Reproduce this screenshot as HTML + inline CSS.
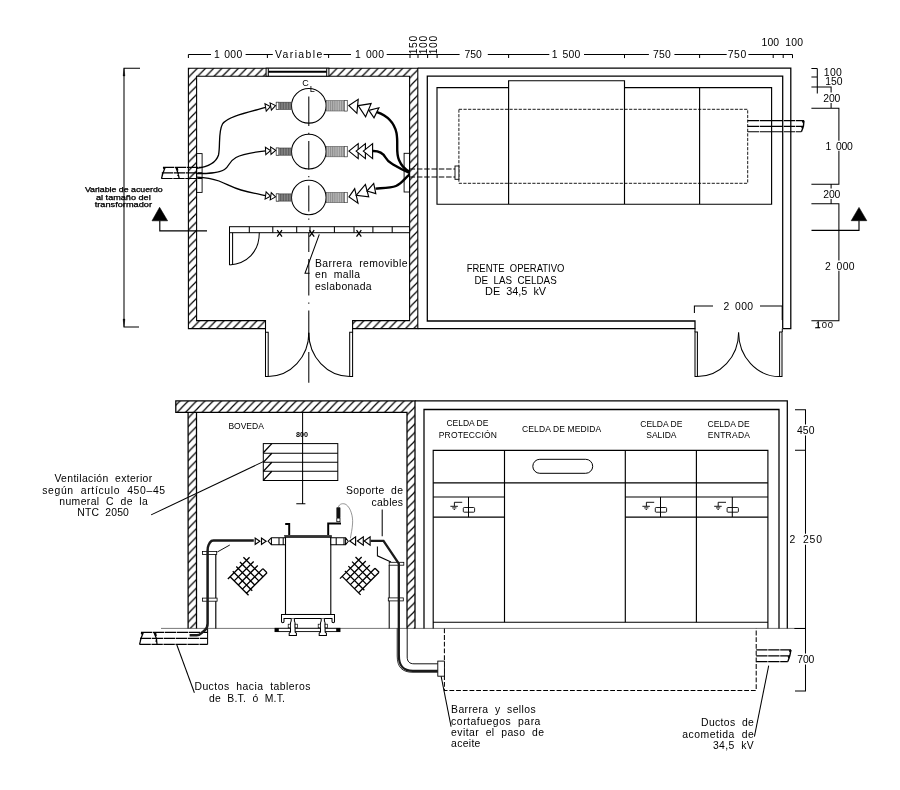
<!DOCTYPE html>
<html><head><meta charset="utf-8"><title>Subestacion</title>
<style>
html,body{margin:0;padding:0;background:#fff;}
body{width:900px;height:790px;overflow:hidden;}
svg{display:block;will-change:transform;}
text{font-family:"Liberation Sans",sans-serif;fill:#000;}
</style></head><body>
<svg width="900" height="790" viewBox="0 0 900 790">
<defs>
<pattern id="h" patternUnits="userSpaceOnUse" width="8.22" height="8.49" patternTransform="translate(0.33 0)">
<path d="M-2.055,2.1225 L2.055,-2.1225 M-2.055,10.6125 L10.275,-2.1225 M6.165,10.6125 L10.275,6.3675" stroke="#000" stroke-width="1.2" fill="none"/>
</pattern>
<pattern id="h2" patternUnits="userSpaceOnUse" width="8.3" height="8.5" patternTransform="translate(7.1 0)">
<path d="M-2.075,2.125 L2.075,-2.125 M-2.075,10.625 L10.375,-2.125 M6.225,10.625 L10.375,6.375" stroke="#000" stroke-width="1.2" fill="none"/>
</pattern>
<pattern id="st1" patternUnits="userSpaceOnUse" width="1.6" height="4">
<rect width="1.6" height="4" fill="#8a8a8a"/><rect width="0.8" height="4" fill="#5c5c5c"/>
</pattern>
<pattern id="st2" patternUnits="userSpaceOnUse" width="2.2" height="4">
<rect width="2.2" height="4" fill="#b8b8b8"/><rect width="1.0" height="4" fill="#8c8c8c"/>
</pattern>
</defs>
<rect width="900" height="790" fill="#fff"/>

<g id="topview">
<path d="M188.4,68.2 H417.8 V328.6 H352.6 V320.6 H409.6 V76.2 H196.6 V320.6 H265.5 V328.6 H188.4 Z" fill="url(#h)" stroke="#000" stroke-width="1.1"/>
<rect x="266.1" y="68.2" width="62.8" height="8" fill="#fff" stroke="#000" stroke-width="1"/>
<line x1="268.3" y1="71.7" x2="326.7" y2="71.7" stroke="#000" stroke-width="1.95" />
<line x1="268.3" y1="68.2" x2="268.3" y2="76.2" stroke="#000" stroke-width="1.03" />
<line x1="326.7" y1="68.2" x2="326.7" y2="76.2" stroke="#000" stroke-width="1.03" />
<rect x="196.6" y="153.6" width="5.5" height="38.8" fill="none" stroke="#000" stroke-width="0.9"/>
<rect x="404.1" y="153.3" width="5.5" height="38.7" fill="none" stroke="#000" stroke-width="0.9"/>
<path d="M417.8,68.2 H790.8 V328.6 H782.7" stroke="#000" stroke-width="1.26" fill="none" />
<path d="M417.8,328.6 H695 V321 H427.3 V76.2 H782.7 V328.6" stroke="#000" stroke-width="1.26" fill="none" />
<path d="M508.6,87.6 H437 V204.2 H771.6 V87.6 H624.5" stroke="#000" stroke-width="1.15" fill="none" />
<path d="M508.6,204 V80.7 H624.5 V204" stroke="#000" stroke-width="1.15" fill="none" />
<line x1="699.6" y1="87.5" x2="699.6" y2="204" stroke="#000" stroke-width="1.15" />
<rect x="458.9" y="109.3" width="288.8" height="74" fill="none" stroke="#000" stroke-width="0.9" stroke-dasharray="3.2 1.4"/>
<line x1="409.6" y1="168.9" x2="455" y2="168.9" stroke="#000" stroke-width="1.03" stroke-dasharray="5.5 1.8"/>
<line x1="409.6" y1="177.1" x2="455" y2="177.1" stroke="#000" stroke-width="1.03" stroke-dasharray="5.5 1.8"/>
<rect x="455" y="166" width="3.9" height="13.3" fill="#fff" stroke="#000" stroke-width="0.9"/>
<line x1="747.7" y1="120.6" x2="804" y2="120.6" stroke="#000" stroke-width="1.15" stroke-dasharray="11.3 0.7"/>
<line x1="747.7" y1="126.4" x2="803.4" y2="126.4" stroke="#000" stroke-width="1.15" stroke-dasharray="11.3 0.7"/>
<line x1="747.7" y1="131.7" x2="801.4" y2="131.7" stroke="#000" stroke-width="1.15" stroke-dasharray="11.3 0.7"/>
<path d="M804,120.6 L803.4,126.4 L801.4,131.7 M802.4,121 L803.7,123.4 M801.8,126.8 L802.9,129.2" stroke="#000" stroke-width="1.38" fill="none" />
<circle cx="308.8" cy="105.8" r="17.3" fill="#fff" stroke="#000" stroke-width="1.05"/>
<rect x="276.2" y="102.2" width="15" height="7.2" fill="url(#st1)" stroke="#333" stroke-width="0.6"/>
<rect x="276.2" y="102.2" width="2.6" height="7.2" fill="#fff" stroke="#333" stroke-width="0.6"/>
<rect x="326.4" y="100.6" width="20.8" height="10.4" fill="url(#st2)" stroke="#555" stroke-width="0.6"/>
<rect x="344.4" y="100.6" width="2.8" height="10.4" fill="#fff" stroke="#444" stroke-width="0.6"/>
<circle cx="308.8" cy="151.6" r="17.3" fill="#fff" stroke="#000" stroke-width="1.05"/>
<rect x="276.2" y="148.0" width="15" height="7.2" fill="url(#st1)" stroke="#333" stroke-width="0.6"/>
<rect x="276.2" y="148.0" width="2.6" height="7.2" fill="#fff" stroke="#333" stroke-width="0.6"/>
<rect x="326.4" y="146.4" width="20.8" height="10.4" fill="url(#st2)" stroke="#555" stroke-width="0.6"/>
<rect x="344.4" y="146.4" width="2.8" height="10.4" fill="#fff" stroke="#444" stroke-width="0.6"/>
<circle cx="308.8" cy="197.5" r="17.3" fill="#fff" stroke="#000" stroke-width="1.05"/>
<rect x="276.2" y="193.9" width="15" height="7.2" fill="url(#st1)" stroke="#333" stroke-width="0.6"/>
<rect x="276.2" y="193.9" width="2.6" height="7.2" fill="#fff" stroke="#333" stroke-width="0.6"/>
<rect x="326.4" y="192.3" width="20.8" height="10.4" fill="url(#st2)" stroke="#555" stroke-width="0.6"/>
<rect x="344.4" y="192.3" width="2.8" height="10.4" fill="#fff" stroke="#444" stroke-width="0.6"/>
<line x1="308.8" y1="96.4" x2="308.8" y2="126.1" stroke="#000" stroke-width="1.03" />
<line x1="308.8" y1="141" x2="308.8" y2="169.5" stroke="#000" stroke-width="1.03" />
<line x1="308.8" y1="185.6" x2="308.8" y2="211.5" stroke="#000" stroke-width="1.03" />
<line x1="308.8" y1="227.8" x2="308.8" y2="252" stroke="#000" stroke-width="1.03" />
<line x1="308.8" y1="259" x2="308.8" y2="295.5" stroke="#000" stroke-width="1.03" />
<line x1="308.8" y1="310.5" x2="308.8" y2="340" stroke="#000" stroke-width="1.03" />
<line x1="308.8" y1="352" x2="308.8" y2="382.7" stroke="#000" stroke-width="1.03" />
<line x1="308.8" y1="132.70000000000002" x2="308.8" y2="133.9" stroke="#000" stroke-width="1.03" />
<line x1="308.8" y1="176.1" x2="308.8" y2="177.29999999999998" stroke="#000" stroke-width="1.03" />
<line x1="308.8" y1="218.6" x2="308.8" y2="219.79999999999998" stroke="#000" stroke-width="1.03" />
<line x1="308.8" y1="302.59999999999997" x2="308.8" y2="303.8" stroke="#000" stroke-width="1.03" />
<text x="302.2" y="86.2" font-size="9" text-anchor="start" >C</text>
<text x="309.8" y="92.3" font-size="9" text-anchor="start" >L</text>
<path d="M265.7,107.4 C245,113 227,117 222.5,124 C218,132 220.5,146 218.5,155 C216,163 207,167 196.6,168.4" stroke="#000" stroke-width="1.32" fill="none" />
<path d="M265.7,150.8 C255,152 243,153.5 236,157.5 C228,162 230,166 224.5,169.5 C218,173.5 207,173.5 196.6,173.5" stroke="#000" stroke-width="1.32" fill="none" />
<path d="M196.6,177.1 C205,177.5 212,178.5 219,181 C228,184.5 232,187.5 241,190 C250,192.5 258,194 265.7,195.6" stroke="#000" stroke-width="1.32" fill="none" />
<line x1="163" y1="167.3" x2="202.2" y2="167.3" stroke="#000" stroke-width="1.15" stroke-dasharray="11.3 0.7"/>
<line x1="161.8" y1="172.9" x2="202.2" y2="172.9" stroke="#000" stroke-width="1.15" stroke-dasharray="11.3 0.7"/>
<line x1="161.3" y1="178.5" x2="202.2" y2="178.5" stroke="#000" stroke-width="1.15" stroke-dasharray="11.3 0.7"/>
<path d="M165.2,167.3 L163,172.9 L161.5,178.5 M163.3,167.5 L164.6,170 M162.8,173.2 L162,176 M175.8,167.3 L178,172.9 L179.2,178.5 M177.2,167.6 L177.8,170.6 M178.4,173.3 L177.8,176.2" stroke="#000" stroke-width="1.26" fill="none" />
<polygon points="270.43,106.55 266.24,111.04 264.96,103.76" stroke="#000" stroke-width="1.03" fill="#fff" stroke-linejoin="miter" />
<polygon points="275.55,105.65 271.36,110.14 270.08,102.85" stroke="#000" stroke-width="1.03" fill="#fff" stroke-linejoin="miter" />
<polygon points="270.49,150.64 265.79,154.59 265.41,147.21" stroke="#000" stroke-width="1.03" fill="#fff" stroke-linejoin="miter" />
<polygon points="275.69,150.37 270.99,154.32 270.60,146.93" stroke="#000" stroke-width="1.03" fill="#fff" stroke-linejoin="miter" />
<polygon points="270.45,196.18 265.09,199.16 266.11,191.84" stroke="#000" stroke-width="1.03" fill="#fff" stroke-linejoin="miter" />
<polygon points="275.60,196.91 270.23,199.89 271.26,192.56" stroke="#000" stroke-width="1.03" fill="#fff" stroke-linejoin="miter" />
<polygon points="348.90,105.60 358.20,99.30 356.90,113.30" stroke="#000" stroke-width="1.15" fill="#fff" stroke-linejoin="miter" />
<polygon points="358.20,105.60 371.10,103.60 365.60,116.70" stroke="#000" stroke-width="1.15" fill="#fff" stroke-linejoin="miter" />
<polygon points="368.90,110.40 378.90,107.80 374.00,117.80" stroke="#000" stroke-width="1.15" fill="#fff" stroke-linejoin="miter" />
<polygon points="348.90,151.10 358.20,143.60 358.20,158.60" stroke="#000" stroke-width="1.15" fill="#fff" stroke-linejoin="miter" />
<polygon points="356.10,151.10 365.40,143.60 365.40,158.60" stroke="#000" stroke-width="1.15" fill="#fff" stroke-linejoin="miter" />
<polygon points="363.30,151.10 372.60,143.60 372.60,158.60" stroke="#000" stroke-width="1.15" fill="#fff" stroke-linejoin="miter" />
<polygon points="349.00,196.90 354.70,188.70 358.00,203.10" stroke="#000" stroke-width="1.15" fill="#fff" stroke-linejoin="miter" />
<polygon points="356.40,195.20 365.40,184.50 368.70,196.90" stroke="#000" stroke-width="1.15" fill="#fff" stroke-linejoin="miter" />
<polygon points="367.00,191.00 373.70,183.40 375.80,193.60" stroke="#000" stroke-width="1.15" fill="#fff" stroke-linejoin="miter" />
<path d="M377,112.2 C388,116 394.5,124 396.5,133 C398.5,144 395.5,152 399,160 C401.5,166 405,169.5 409.5,171.5" stroke="#000" stroke-width="2.4" fill="none" />
<path d="M372.6,151 C379,150.8 383,153 385.5,157.5 C388,162 390,162.5 394,165 C399,168 404,170.5 409.5,172.8" stroke="#000" stroke-width="2.4" fill="none" />
<path d="M375.5,188.6 C384,188 391,188 396,186 C402,183.5 404.5,178.5 409.5,174.5" stroke="#000" stroke-width="2.4" fill="none" />
<rect x="229.5" y="226.7" width="180.1" height="6" fill="#fff" stroke="#000" stroke-width="1"/>
<line x1="249.3" y1="226.7" x2="249.3" y2="232.7" stroke="#000" stroke-width="1.03" />
<line x1="272.8" y1="226.7" x2="272.8" y2="232.7" stroke="#000" stroke-width="1.03" />
<line x1="296.7" y1="226.7" x2="296.7" y2="232.7" stroke="#000" stroke-width="1.03" />
<line x1="310" y1="226.7" x2="310" y2="232.7" stroke="#000" stroke-width="1.03" />
<line x1="334.4" y1="226.7" x2="334.4" y2="232.7" stroke="#000" stroke-width="1.03" />
<line x1="354" y1="226.7" x2="354" y2="232.7" stroke="#000" stroke-width="1.03" />
<line x1="372.9" y1="226.7" x2="372.9" y2="232.7" stroke="#000" stroke-width="1.03" />
<line x1="392.2" y1="226.7" x2="392.2" y2="232.7" stroke="#000" stroke-width="1.03" />
<path d="M277.20000000000005,230.2 L282.0,236.6 M282.0,230.2 L277.20000000000005,236.6" stroke="#000" stroke-width="1.26" fill="none" />
<path d="M309.40000000000003,230.2 L314.2,236.6 M314.2,230.2 L309.40000000000003,236.6" stroke="#000" stroke-width="1.26" fill="none" />
<path d="M356.5,230.2 L361.29999999999995,236.6 M361.29999999999995,230.2 L356.5,236.6" stroke="#000" stroke-width="1.26" fill="none" />
<path d="M229.5,232.7 V265 M232.6,232.7 V264.6" stroke="#000" stroke-width="1.03" fill="none" />
<path d="M259.3,232.7 C259.3,252 247,263.5 229.5,265" stroke="#000" stroke-width="1.03" fill="none" />
<path d="M319.3,234.4 L305,273.3 H309.6" stroke="#000" stroke-width="1.03" fill="none" />
<text x="315" y="267" font-size="10.4" text-anchor="start" textLength="92.5" lengthAdjust="spacing"  xml:space="preserve">Barrera  removible</text>
<text x="315" y="278.3" font-size="10.4" text-anchor="start" textLength="45" lengthAdjust="spacing"  xml:space="preserve">en  malla</text>
<text x="315" y="289.7" font-size="10.4" text-anchor="start" textLength="56.5" lengthAdjust="spacing" >eslabonada</text>
<path d="M265.5,332.2 H268.2 V376.4 H265.5 Z" stroke="#000" stroke-width="1.03" fill="none" />
<path d="M352.6,332.2 H349.7 V376.4 H352.6 Z" stroke="#000" stroke-width="1.03" fill="none" />
<path d="M268.2,376.4 A40.6,43.6 0 0 0 308.8,332.8" stroke="#000" stroke-width="1.03" fill="none" />
<path d="M349.7,376.4 A40.9,43.6 0 0 1 308.8,332.8" stroke="#000" stroke-width="1.03" fill="none" />
<line x1="265.5" y1="328.6" x2="265.5" y2="332.2" stroke="#000" stroke-width="1.03" />
<line x1="352.6" y1="328.6" x2="352.6" y2="332.2" stroke="#000" stroke-width="1.03" />
<path d="M695,332 H697.4 V376.6 H695 Z" stroke="#000" stroke-width="1.03" fill="none" />
<path d="M782,332 H779.6 V376.6 H782 Z" stroke="#000" stroke-width="1.03" fill="none" />
<path d="M697.4,376.6 A41.2,44 0 0 0 738.6,332.6" stroke="#000" stroke-width="1.03" fill="none" />
<path d="M779.6,376.6 A41,44 0 0 1 738.6,332.6" stroke="#000" stroke-width="1.03" fill="none" />
<line x1="695" y1="328.6" x2="695" y2="332" stroke="#000" stroke-width="1.03" />
<line x1="782.3" y1="328.6" x2="782.3" y2="332" stroke="#000" stroke-width="1.03" />
<path d="M694.4,313 V306 H713 M760,306 H782.2 V320" stroke="#000" stroke-width="1.03" fill="none" />
<text x="723.6" y="310" font-size="10.4" text-anchor="start" >2</text>
<text x="735.1" y="310" font-size="10.4" text-anchor="start" textLength="18" lengthAdjust="spacing" >000</text>
<text x="466.7" y="272.2" font-size="10.4" text-anchor="start" textLength="97.7" lengthAdjust="spacingAndGlyphs" xml:space="preserve">FRENTE  OPERATIVO</text>
<text x="474.4" y="283.8" font-size="10.4" text-anchor="start" textLength="82.3" lengthAdjust="spacingAndGlyphs" xml:space="preserve">DE  LAS  CELDAS</text>
<text x="485.1" y="295.1" font-size="10.4" text-anchor="start" textLength="61" lengthAdjust="spacingAndGlyphs" xml:space="preserve">DE  34,5  kV</text>
<line x1="188.4" y1="54.5" x2="211" y2="54.5" stroke="#000" stroke-width="1.03" />
<line x1="245.6" y1="54.5" x2="272.8" y2="54.5" stroke="#000" stroke-width="1.03" />
<line x1="323.6" y1="54.5" x2="351" y2="54.5" stroke="#000" stroke-width="1.03" />
<line x1="386.7" y1="54.5" x2="459.6" y2="54.5" stroke="#000" stroke-width="1.03" />
<line x1="487.8" y1="54.5" x2="549.3" y2="54.5" stroke="#000" stroke-width="1.03" />
<line x1="584" y1="54.5" x2="648.9" y2="54.5" stroke="#000" stroke-width="1.03" />
<line x1="674.4" y1="54.5" x2="726.7" y2="54.5" stroke="#000" stroke-width="1.03" />
<line x1="748.4" y1="54.5" x2="792.5" y2="54.5" stroke="#000" stroke-width="1.03" />
<line x1="188.4" y1="54.5" x2="188.4" y2="58.1" stroke="#000" stroke-width="1.03" />
<line x1="267.4" y1="54.5" x2="267.4" y2="58.1" stroke="#000" stroke-width="1.03" />
<line x1="328.6" y1="54.5" x2="328.6" y2="58.1" stroke="#000" stroke-width="1.03" />
<line x1="410" y1="54.5" x2="410" y2="58.1" stroke="#000" stroke-width="1.03" />
<line x1="418" y1="54.5" x2="418" y2="58.1" stroke="#000" stroke-width="1.03" />
<line x1="427.6" y1="54.5" x2="427.6" y2="58.1" stroke="#000" stroke-width="1.03" />
<line x1="437.1" y1="54.5" x2="437.1" y2="58.1" stroke="#000" stroke-width="1.03" />
<line x1="508.6" y1="54.5" x2="508.6" y2="58.1" stroke="#000" stroke-width="1.03" />
<line x1="624.5" y1="54.5" x2="624.5" y2="58.1" stroke="#000" stroke-width="1.03" />
<line x1="699.6" y1="54.5" x2="699.6" y2="58.1" stroke="#000" stroke-width="1.03" />
<line x1="773.2" y1="54.5" x2="773.2" y2="58.1" stroke="#000" stroke-width="1.03" />
<line x1="783.2" y1="54.5" x2="783.2" y2="58.1" stroke="#000" stroke-width="1.03" />
<line x1="792.5" y1="54.5" x2="792.5" y2="58.1" stroke="#000" stroke-width="1.03" />
<text x="214" y="57.9" font-size="10.4" text-anchor="start" >1</text>
<text x="224.2" y="57.9" font-size="10.4" text-anchor="start" textLength="18" lengthAdjust="spacing" >000</text>
<text x="275" y="57.9" font-size="10.4" text-anchor="start" textLength="47.2" lengthAdjust="spacing" >Variable</text>
<text x="354.9" y="57.9" font-size="10.4" text-anchor="start" >1</text>
<text x="366.0" y="57.9" font-size="10.4" text-anchor="start" textLength="18" lengthAdjust="spacing" >000</text>
<text x="464.4" y="57.9" font-size="10.4" text-anchor="start" textLength="17.4" lengthAdjust="spacing" >750</text>
<text x="551.8" y="57.9" font-size="10.4" text-anchor="start" >1</text>
<text x="562.4" y="57.9" font-size="10.4" text-anchor="start" textLength="18" lengthAdjust="spacing" >500</text>
<text x="652.9" y="57.9" font-size="10.4" text-anchor="start" textLength="17.8" lengthAdjust="spacing" >750</text>
<text x="727.8" y="57.9" font-size="10.4" text-anchor="start" textLength="18.4" lengthAdjust="spacing" >750</text>
<text x="761.5" y="46.2" font-size="10.4" text-anchor="start" textLength="41.5" lengthAdjust="spacing"  xml:space="preserve">100  100</text>
<text transform="translate(417.2 54.2) rotate(-90)" font-size="10.4" textLength="18.4" lengthAdjust="spacing">150</text>
<text transform="translate(427.2 54.2) rotate(-90)" font-size="10.4" textLength="18.4" lengthAdjust="spacing">100</text>
<text transform="translate(436.7 54.2) rotate(-90)" font-size="10.4" textLength="18.4" lengthAdjust="spacing">100</text>
<path d="M811.4,68.5 H817.3 M811.4,76.9 H817.3 M817.3,68.5 V93.6 M811.4,86.9 H831.1 V92.4 M831.1,103.1 V108.2 M811.4,108.2 H838.9 V140.7 M838.9,150.7 V184.3 H811.4 M831.1,184.3 V188.5 M831.1,199 V203.8 M811.4,203.8 H838.9 V260.6 M838.9,270.8 V320.8 H811.4" stroke="#000" stroke-width="1.03" fill="none" />
<text x="823.8" y="75.5" font-size="10.4" text-anchor="start" textLength="18" lengthAdjust="spacing" >100</text>
<text x="825.3" y="85" font-size="10.4" text-anchor="start" textLength="17.2" lengthAdjust="spacing" >150</text>
<text x="823.2" y="101.9" font-size="10.4" text-anchor="start" textLength="17.2" lengthAdjust="spacing" >200</text>
<text x="825.6" y="150.2" font-size="10.4" text-anchor="start" >1</text>
<text x="836.1" y="150.2" font-size="10.4" text-anchor="start" textLength="16.6" lengthAdjust="spacing" >000</text>
<text x="823.2" y="197.7" font-size="10.4" text-anchor="start" textLength="17.2" lengthAdjust="spacing" >200</text>
<text x="824.9" y="270.2" font-size="10.4" text-anchor="start" >2</text>
<text x="836.6" y="270.2" font-size="10.4" text-anchor="start" textLength="18" lengthAdjust="spacing" >000</text>
<text x="815.6" y="328" font-size="9.5" text-anchor="start" textLength="17.5" lengthAdjust="spacing" >100</text>
<path d="M818.2,321 V327.5 M815,327.8 H820" stroke="#000" stroke-width="0.92" fill="none" />
<polygon points="159.60,207.30 152.00,220.80 167.60,220.80" stroke="#000" stroke-width="0.57" fill="#000" stroke-linejoin="miter" />
<path d="M159.8,220.8 V230.8 H207" stroke="#000" stroke-width="1.15" fill="none" />
<polygon points="859.00,207.40 851.20,220.70 866.80,220.70" stroke="#000" stroke-width="0.57" fill="#000" stroke-linejoin="miter" />
<path d="M859,220.7 V230.3 H811.5" stroke="#000" stroke-width="1.15" fill="none" />
<path d="M140,68.2 H124 V327 H139" stroke="#000" stroke-width="1.03" fill="none" />
<polygon points="124.00,68.40 123.10,76.00 124.90,76.00" stroke="#000" stroke-width="0.34" fill="#000" stroke-linejoin="miter" />
<polygon points="124.00,326.80 123.10,319.00 124.90,319.00" stroke="#000" stroke-width="0.34" fill="#000" stroke-linejoin="miter" />
<text x="84.9" y="192.4" font-size="6.3" textLength="77.8" lengthAdjust="spacingAndGlyphs" stroke="#000" stroke-width="0.25">Variable de acuerdo</text>
<text x="96" y="199.7" font-size="6.3" textLength="54.7" lengthAdjust="spacingAndGlyphs" stroke="#000" stroke-width="0.25">al tamaño del</text>
<text x="94.7" y="207.3" font-size="6.3" textLength="57.3" lengthAdjust="spacingAndGlyphs" stroke="#000" stroke-width="0.25">transformador</text>
</g>
<g id="elev">
<line x1="161" y1="628.4" x2="806" y2="628.4" stroke="#555" stroke-width="0.8" />
<path d="M175.8,400.9 H415 V628.4 H407 V412.3 H175.8 Z" fill="url(#h2)" stroke="none"/>
<path d="M407,628.4 V412.3 H175.8 V400.9 H415 V628.4" stroke="#000" stroke-width="1.26" fill="none" />
<rect x="188.1" y="412.3" width="8.4" height="216.1" fill="url(#h2)" stroke="none"/>
<path d="M188.1,412.3 V628.4 M196.5,412.3 V628.4" stroke="#000" stroke-width="1.26" fill="none" />
<path d="M415,400.8 H787.3 V628.4" stroke="#000" stroke-width="1.26" fill="none" />
<path d="M424,628.4 V409.5 H779 V628.4" stroke="#000" stroke-width="1.26" fill="none" />
<path d="M433.2,628.4 V450.4 H767.9 V628.4 M433.2,622.2 H767.9" stroke="#000" stroke-width="1.15" fill="none" />
<line x1="504.5" y1="450.4" x2="504.5" y2="622.2" stroke="#000" stroke-width="1.15" />
<line x1="625.3" y1="450.4" x2="625.3" y2="622.2" stroke="#000" stroke-width="1.15" />
<line x1="696.4" y1="450.4" x2="696.4" y2="622.2" stroke="#000" stroke-width="1.15" />
<line x1="433.2" y1="482.9" x2="767.9" y2="482.9" stroke="#000" stroke-width="1.15" />
<line x1="433.2" y1="497" x2="504.5" y2="497" stroke="#000" stroke-width="1.15" />
<line x1="433.2" y1="517.1" x2="504.5" y2="517.1" stroke="#000" stroke-width="1.15" />
<line x1="625.3" y1="497" x2="767.9" y2="497" stroke="#000" stroke-width="1.15" />
<line x1="625.3" y1="517.1" x2="767.9" y2="517.1" stroke="#000" stroke-width="1.15" />
<line x1="468.5" y1="497" x2="468.5" y2="517.1" stroke="#000" stroke-width="1.03" />
<path d="M462.2,502.3 H454.4 V506.2 M450.4,506.3 H457.9 M452.2,507.9 H456.4 M453.6,509.4 H455.1" stroke="#000" stroke-width="0.92" fill="none" />
<rect x="463.3" y="507.5" width="11.3" height="4.7" rx="0.9" fill="none" stroke="#000" stroke-width="0.9"/>
<line x1="660.5" y1="497" x2="660.5" y2="517.1" stroke="#000" stroke-width="1.03" />
<path d="M654.2,502.3 H646.4 V506.2 M642.4,506.3 H649.9 M644.2,507.9 H648.4 M645.6,509.4 H647.1" stroke="#000" stroke-width="0.92" fill="none" />
<rect x="655.3" y="507.5" width="11.3" height="4.7" rx="0.9" fill="none" stroke="#000" stroke-width="0.9"/>
<line x1="732.3" y1="497" x2="732.3" y2="517.1" stroke="#000" stroke-width="1.03" />
<path d="M726.0,502.3 H718.1999999999999 V506.2 M714.1999999999999,506.3 H721.6999999999999 M716.0,507.9 H720.1999999999999 M717.4,509.4 H718.9" stroke="#000" stroke-width="0.92" fill="none" />
<rect x="727.1" y="507.5" width="11.3" height="4.7" rx="0.9" fill="none" stroke="#000" stroke-width="0.9"/>
<rect x="532.8" y="459.3" width="59.9" height="14" rx="7" fill="none" stroke="#000" stroke-width="1"/>
<text x="467.4" y="426" font-size="8.5" text-anchor="middle" >CELDA DE</text>
<text x="438.8" y="438.4" font-size="8.5" text-anchor="start" textLength="58" lengthAdjust="spacing" >PROTECCIÓN</text>
<text x="522.1" y="432.2" font-size="8.5" text-anchor="start" textLength="79" lengthAdjust="spacing" >CELDA DE MEDIDA</text>
<text x="661.3" y="426.6" font-size="8.5" text-anchor="middle" >CELDA DE</text>
<text x="661.4" y="437.8" font-size="8.5" text-anchor="middle" >SALIDA</text>
<text x="728.6" y="426.6" font-size="8.5" text-anchor="middle" >CELDA DE</text>
<text x="707.8" y="437.8" font-size="8.5" text-anchor="start" textLength="42.2" lengthAdjust="spacing" >ENTRADA</text>
<path d="M444.4,628.4 V690.4 H756.2 V628.4" stroke="#000" stroke-width="1.03" fill="none" stroke-dasharray="4.8 1.9"/>
<line x1="756.2" y1="649.9" x2="791" y2="649.9" stroke="#000" stroke-width="1.15" stroke-dasharray="11.3 0.7"/>
<line x1="756.2" y1="655.8" x2="789.8" y2="655.8" stroke="#000" stroke-width="1.15" stroke-dasharray="11.3 0.7"/>
<line x1="756.2" y1="661.6" x2="787.8" y2="661.6" stroke="#000" stroke-width="1.15" stroke-dasharray="11.3 0.7"/>
<path d="M791,649.9 L789.8,655.8 L787.8,661.6 M789.3,650.3 L790.6,652.8 M788.2,656.2 L789.3,658.8" stroke="#000" stroke-width="1.38" fill="none" />
<path d="M795,409.8 H805.5 V424.5 M805.5,435.5 V533.8 M805.5,544.8 V653.5 M805.5,664.5 V691.1 H795 M795,450.3 H805.5 M794.4,628.4 H805.5" stroke="#000" stroke-width="1.03" fill="none" />
<text x="796.9" y="433.9" font-size="10.4" text-anchor="start" textLength="17.6" lengthAdjust="spacing" >450</text>
<text x="789.6" y="543.1" font-size="10.4" text-anchor="start" >2</text>
<text x="803.0" y="543.1" font-size="10.4" text-anchor="start" textLength="19" lengthAdjust="spacing" >250</text>
<text x="797.3" y="662.9" font-size="10.4" text-anchor="start" textLength="17.1" lengthAdjust="spacing" >700</text>
<path d="M768.7,665.6 L754.4,736.7" stroke="#000" stroke-width="1.03" fill="none" />
<text x="753.8" y="726.2" font-size="10.4" text-anchor="end" textLength="52.7" lengthAdjust="spacing"  xml:space="preserve">Ductos  de</text>
<text x="753.8" y="737.8" font-size="10.4" text-anchor="end" textLength="71.6" lengthAdjust="spacing"  xml:space="preserve">acometida  de</text>
<text x="753.8" y="748.9" font-size="10.4" text-anchor="end" textLength="40.9" lengthAdjust="spacing"  xml:space="preserve">34,5  kV</text>
<path d="M441.1,676.2 L451.1,726.7" stroke="#000" stroke-width="1.03" fill="none" />
<text x="451.1" y="713.3" font-size="10.4" text-anchor="start" textLength="84.5" lengthAdjust="spacing"  xml:space="preserve">Barrera  y  sellos</text>
<text x="451.1" y="724.5" font-size="10.4" text-anchor="start" textLength="89.3" lengthAdjust="spacing"  xml:space="preserve">cortafuegos  para</text>
<text x="451.1" y="736" font-size="10.4" text-anchor="start" textLength="92.9" lengthAdjust="spacing"  xml:space="preserve">evitar  el  paso  de</text>
<text x="451.1" y="747.2" font-size="10.4" text-anchor="start" textLength="29.3" lengthAdjust="spacing" >aceite</text>
<path d="M176.6,644.2 L194.4,692.8" stroke="#000" stroke-width="1.03" fill="none" />
<text x="194.4" y="690.4" font-size="10.4" text-anchor="start" textLength="116" lengthAdjust="spacing"  xml:space="preserve">Ductos  hacia  tableros</text>
<text x="209" y="701.6" font-size="10.4" text-anchor="start" textLength="76" lengthAdjust="spacing"  xml:space="preserve">de  B.T.  ó  M.T.</text>
<path d="M151.1,514.9 L263.3,461.6" stroke="#000" stroke-width="1.03" fill="none" />
<text x="54.4" y="482.2" font-size="10.4" text-anchor="start" textLength="97.8" lengthAdjust="spacing"  xml:space="preserve">Ventilación  exterior</text>
<text x="42.2" y="493.8" font-size="10.4" text-anchor="start" textLength="122.9" lengthAdjust="spacing"  xml:space="preserve">según  artículo  450–45</text>
<text x="59.3" y="505.1" font-size="10.4" text-anchor="start" textLength="88.5" lengthAdjust="spacing"  xml:space="preserve">numeral  C  de  la</text>
<text x="77.3" y="516.2" font-size="10.4" text-anchor="start" textLength="51.6" lengthAdjust="spacing"  xml:space="preserve">NTC  2050</text>
<text x="403" y="494.4" font-size="10.4" text-anchor="end" textLength="57" lengthAdjust="spacing"  xml:space="preserve">Soporte  de</text>
<text x="403" y="505.6" font-size="10.4" text-anchor="end" textLength="31.5" lengthAdjust="spacing" >cables</text>
<path d="M382.2,509.6 V536.2" stroke="#000" stroke-width="1.03" fill="none" />
<path d="M377.4,546.5 V555.8 L391,562" stroke="#000" stroke-width="1.03" fill="none" />
<path d="M217.3,552 L229.8,545" stroke="#000" stroke-width="0.92" fill="none" />
<text x="228.4" y="429.3" font-size="8.5" text-anchor="start" >BOVEDA</text>
<text x="296" y="436.7" font-size="7.2" text-anchor="start" font-weight="bold">800</text>
<rect x="263.3" y="443.6" width="74.5" height="36.9" fill="#fff" stroke="#000" stroke-width="1"/>
<line x1="263.3" y1="453.2" x2="337.8" y2="453.2" stroke="#000" stroke-width="1.15" />
<line x1="263.3" y1="462.2" x2="337.8" y2="462.2" stroke="#000" stroke-width="1.15" />
<line x1="263.3" y1="471.2" x2="337.8" y2="471.2" stroke="#000" stroke-width="1.15" />
<line x1="263.3" y1="452.8" x2="271.8" y2="443.6" stroke="#000" stroke-width="1.32" />
<line x1="263.3" y1="462.4" x2="271.8" y2="453.2" stroke="#000" stroke-width="1.32" />
<line x1="263.3" y1="471.4" x2="271.8" y2="462.2" stroke="#000" stroke-width="1.32" />
<line x1="263.3" y1="480.4" x2="271.8" y2="471.2" stroke="#000" stroke-width="1.32" />
<path d="M302.6,412.2 V503.7 M296.3,503.7 H305.4" stroke="#000" stroke-width="1.03" fill="none" />
<rect x="285.5" y="537" width="45.3" height="77.5" fill="#fff" stroke="#000" stroke-width="1.1"/>
<rect x="284.8" y="535.3" width="46.8" height="2" fill="#333" stroke="#000" stroke-width="0.4"/>
<path d="M281.5,614.5 H334.5 V621.5 Q334.5,622.7 333.3,622.7 Q332,622.7 332,621.5 V618.5 H284 V621.5 Q284,622.7 282.7,622.7 Q281.5,622.7 281.5,621.5 Z" stroke="#000" stroke-width="1.03" fill="#fff" />
<rect x="275" y="628.3" width="65" height="3.3" fill="#fff" stroke="#000" stroke-width="0.9"/>
<rect x="275" y="628.1" width="3.8" height="3.7" fill="#000"/>
<rect x="336.2" y="628.1" width="3.8" height="3.7" fill="#000"/>
<path d="M291.2,618.5 V621 Q290.5,622 290.5,624 V632 L289.2,633.2 V635.5 H296.40000000000003 V633.2 L295.1,632 V624 Q295.1,622 294.40000000000003,621 V618.5" stroke="#000" stroke-width="1.03" fill="#fff" />
<rect x="288.2" y="624.2" width="2.3" height="3.6" fill="#fff" stroke="#000" stroke-width="0.7"/>
<rect x="295.1" y="624.2" width="2.3" height="3.6" fill="#fff" stroke="#000" stroke-width="0.7"/>
<path d="M321.2,618.5 V621 Q320.5,622 320.5,624 V632 L319.2,633.2 V635.5 H326.40000000000003 V633.2 L325.1,632 V624 Q325.1,622 324.40000000000003,621 V618.5" stroke="#000" stroke-width="1.03" fill="#fff" />
<rect x="318.2" y="624.2" width="2.3" height="3.6" fill="#fff" stroke="#000" stroke-width="0.7"/>
<rect x="325.1" y="624.2" width="2.3" height="3.6" fill="#fff" stroke="#000" stroke-width="0.7"/>
<path d="M285.2,524 H289.2 V535" stroke="#000" stroke-width="1.95" fill="none" />
<path d="M341,523.5 H328.2 V535" stroke="#000" stroke-width="1.95" fill="none" />
<rect x="336.4" y="507.3" width="4" height="10.8" rx="0.8" fill="#111"/>
<rect x="336.8" y="518.1" width="3.2" height="3.6" fill="#fff" stroke="#000" stroke-width="0.8"/>
<path d="M338.4,507.3 C339,503.5 343.5,503 346,504.5 C351,508 353,517 352.6,523 C352.2,530 351,534 350.4,538.3" stroke="#666" stroke-width="0.69" fill="none" />
<path d="M268.1,541.2 L271.4,537.7 H285.5 V544.8 H271.4 Z M271.4,537.7 V544.8 M279,537.7 V544.8 M283.2,537.7 V544.8" stroke="#000" stroke-width="1.03" fill="#fff" />
<path d="M348.3,541.2 L345.6,537.7 H330.8 V544.8 H345.6 Z M345.6,537.7 V544.8 M336.2,537.7 V544.8 M344,537.7 V544.8" stroke="#000" stroke-width="1.03" fill="#fff" />
<polygon points="259.80,541.20 255.20,538.00 255.20,544.40" stroke="#000" stroke-width="1.15" fill="#fff" stroke-linejoin="miter" />
<polygon points="266.10,541.20 261.50,538.00 261.50,544.40" stroke="#000" stroke-width="1.15" fill="#fff" stroke-linejoin="miter" />
<polygon points="349.70,541.00 355.60,536.90 355.60,545.10" stroke="#000" stroke-width="1.15" fill="#fff" stroke-linejoin="miter" />
<polygon points="357.40,541.00 363.30,536.90 363.30,545.10" stroke="#000" stroke-width="1.15" fill="#fff" stroke-linejoin="miter" />
<polygon points="364.20,541.00 370.10,536.90 370.10,545.10" stroke="#000" stroke-width="1.15" fill="#fff" stroke-linejoin="miter" />
<path d="M215.8,554 V628.4" stroke="#000" stroke-width="1.15" fill="none" />
<rect x="202.5" y="551.5" width="14.2" height="3" fill="#fff" stroke="#000" stroke-width="0.8"/>
<rect x="202.5" y="598.1" width="14.6" height="3.1" fill="#fff" stroke="#000" stroke-width="0.8"/>
<line x1="141" y1="632.4" x2="207.6" y2="632.4" stroke="#000" stroke-width="1.15" stroke-dasharray="11.3 0.7"/>
<line x1="140" y1="638.4" x2="207.6" y2="638.4" stroke="#000" stroke-width="1.15" stroke-dasharray="11.3 0.7"/>
<line x1="139.5" y1="644.3" x2="207.6" y2="644.3" stroke="#000" stroke-width="1.15" stroke-dasharray="11.3 0.7"/>
<line x1="207.6" y1="628.4" x2="207.6" y2="644.6" stroke="#000" stroke-width="1.03" />
<path d="M143.3,632.4 L141,638.4 L139.6,644.3 M141.2,632.6 L142.6,635.2 M141,638.6 L140.2,641.5 M154,632.4 L156.4,638.4 L157,644.3 M155.6,632.8 L156.2,636 M156.6,638.8 L156,641.8" stroke="#000" stroke-width="1.26" fill="none" />
<path d="M407.2,628.4 V657 C407.2,661.5 409.5,663.8 414,663.8 H437.8" stroke="#000" stroke-width="0.92" fill="none" />
<path d="M397.2,628.4 V656 C397.2,667 402,672.3 413,672.3 H437.8" stroke="#000" stroke-width="0.8" fill="none" />
<rect x="437.8" y="661.1" width="6.6" height="15.1" fill="#fff" stroke="#000" stroke-width="0.9"/>
<path d="M389.2,565 V628.4" stroke="#000" stroke-width="1.03" fill="none" />
<rect x="389.2" y="562.3" width="14.6" height="2.9" fill="#fff" stroke="#000" stroke-width="0.8"/>
<rect x="388.3" y="597.9" width="15" height="3" fill="#fff" stroke="#000" stroke-width="0.8"/>
<path d="M253.8,540.6 H213.5 C211.5,540.6 211,541 210,542.5 L208.6,545 C207.8,546.5 207.6,548 207.6,551 V623.5 C207.6,626.5 206.8,628.3 205,630 L201.5,633.1 C200,634.5 198.5,635.3 196.5,635.3 H189.6" stroke="#1a1a1a" stroke-width="2.5" fill="none" />
<path d="M370.5,540.8 H383.5 L398.8,563.5 V655 C398.8,666 403,670.8 413,670.8 H437.8" stroke="#1a1a1a" stroke-width="2.3" fill="none" />
<path d="M227.84,579.05 L249.57,557.32 M234.20,580.90 L253.67,561.42 M238.30,585.00 L257.77,565.52 M242.40,589.10 L262.90,568.60 M246.50,593.20 L267.00,572.70 M230.10,576.80 L248.55,595.25 M232.76,571.26 L252.24,590.74 M236.25,566.55 L254.70,585.00 M239.94,562.04 L258.80,580.90 M243.43,557.32 L262.90,576.80 M262.90,568.60 L267.00,572.70 " stroke="#000" stroke-width="1.32" fill="none" />
<path d="M339.94,578.65 L361.68,556.92 M346.30,580.50 L365.78,561.02 M350.40,584.60 L369.88,565.12 M354.50,588.70 L375.00,568.20 M358.60,592.80 L379.10,572.30 M342.20,576.40 L360.65,594.85 M344.87,570.87 L364.34,590.34 M348.35,566.15 L366.80,584.60 M352.04,561.64 L370.90,580.50 M355.52,556.92 L375.00,576.40 M375.00,568.20 L379.10,572.30 " stroke="#000" stroke-width="1.32" fill="none" />
</g>
</svg></body></html>
